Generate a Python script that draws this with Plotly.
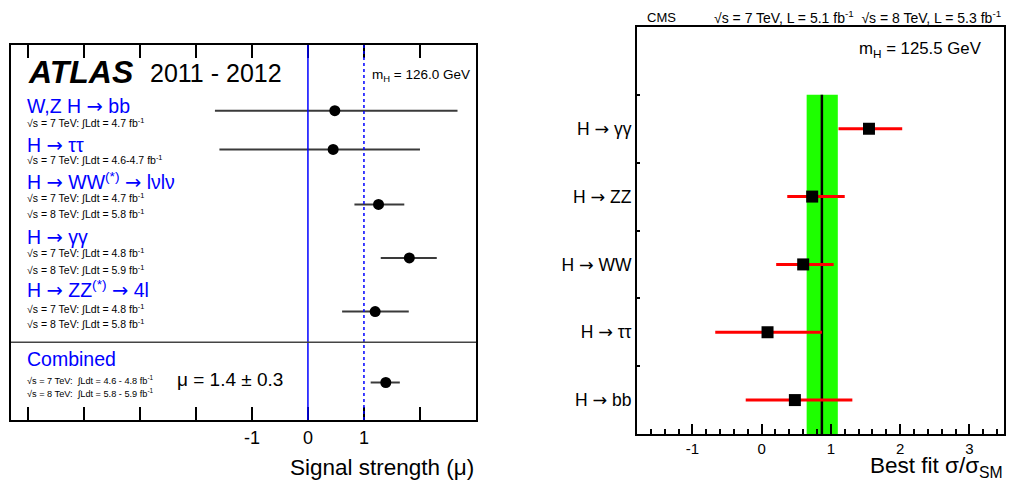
import plotly.graph_objects as go

# ---------------- data ----------------
atlas_channels = ["W,Z H → bb", "H → ττ", "H → WW<sup>(*)</sup> → lνlν",
                  "H → γγ", "H → ZZ<sup>(*)</sup> → 4l", "Combined"]
atlas_mu = [0.48, 0.45, 1.26, 1.81, 1.20, 1.39]
atlas_err_lo = [2.14, 2.03, 0.43, 0.51, 0.59, 0.27]
atlas_err_hi = [2.19, 1.55, 0.46, 0.49, 0.60, 0.25]
atlas_sublabels = [
    ["√s = 7 TeV: ∫Ldt = 4.7 fb<sup>-1</sup>"],
    ["√s = 7 TeV: ∫Ldt = 4.6-4.7 fb<sup>-1</sup>"],
    ["√s = 7 TeV: ∫Ldt = 4.7 fb<sup>-1</sup>", "√s = 8 TeV: ∫Ldt = 5.8 fb<sup>-1</sup>"],
    ["√s = 7 TeV: ∫Ldt = 4.8 fb<sup>-1</sup>", "√s = 8 TeV: ∫Ldt = 5.9 fb<sup>-1</sup>"],
    ["√s = 7 TeV: ∫Ldt = 4.8 fb<sup>-1</sup>", "√s = 8 TeV: ∫Ldt = 5.8 fb<sup>-1</sup>"],
    ["√s = 7 TeV:  ∫Ldt = 4.6 - 4.8 fb<sup>-1</sup>", "√s = 8 TeV:  ∫Ldt = 5.8 - 5.9 fb<sup>-1</sup>"],
]
atlas_ticks = [-5, -4, -3, -2, -1, 0, 1, 2, 3]
atlas_ticktext = ["" if v not in (-1, 0, 1) else str(v) for v in atlas_ticks]

cms_channels = ["H → bb", "H → ττ", "H → WW", "H → ZZ", "H → γγ"]
cms_mu = [0.48, 0.085, 0.60, 0.73, 1.55]
cms_err_lo = [0.71, 0.755, 0.39, 0.36, 0.44]
cms_err_hi = [0.83, 0.785, 0.44, 0.47, 0.48]
cms_comb = 0.87
cms_comb_lo = 0.22
cms_comb_hi = 0.23
cms_ticks = [-1, 0, 1, 2, 3]

# ---------------- layout helpers ----------------
W, H = 1011, 487
FONT = "Liberation Sans, Arial, sans-serif"
ARROW = '<span style="font-family:DejaVu Sans">→</span>'
def px(x): return x / W
def py(y): return 1 - y / H
def arrows(s): return s.replace("→", ARROW)

# row positions on the ATLAS panel (layout slots, top = 0)
atlas_rows = [2.45, 3.9, 5.95, 7.95, 9.95, 12.6]
atlas_sep = 11.1

fig = go.Figure()

fig.add_trace(go.Scatter(
    x=atlas_mu, y=atlas_rows, mode="markers", xaxis="x", yaxis="y",
    marker=dict(color="black", size=11, symbol="circle"),
    error_x=dict(type="data", symmetric=False, array=atlas_err_hi,
                 arrayminus=atlas_err_lo, color="#3a3a3a", thickness=2, width=0),
    showlegend=False, hoverinfo="skip"))

fig.add_trace(go.Scatter(
    x=cms_mu, y=cms_channels, mode="markers", xaxis="x2", yaxis="y2",
    marker=dict(color="black", size=12, symbol="square"),
    error_x=dict(type="data", symmetric=False, array=cms_err_hi,
                 arrayminus=cms_err_lo, color="#ff0000", thickness=3, width=0),
    showlegend=False, hoverinfo="skip"))

shapes = [
    dict(type="line", xref="x", yref="y domain", x0=0, x1=0, y0=0, y1=1,
         line=dict(color="#0000ff", width=1.5)),
    dict(type="line", xref="x", yref="y domain", x0=1, x1=1, y0=0, y1=1,
         line=dict(color="#0000ff", width=1.5, dash="dot")),
    dict(type="line", xref="x domain", yref="y", x0=0, x1=1, y0=atlas_sep, y1=atlas_sep,
         line=dict(color="#444444", width=1.5)),
    dict(type="rect", xref="x2", yref="y2", x0=cms_comb - cms_comb_lo, x1=cms_comb + cms_comb_hi,
         y0=-0.5, y1=len(cms_channels) - 0.5, fillcolor="rgb(30,255,0)",
         line=dict(width=0), layer="below"),
    dict(type="line", xref="x2", yref="y2", x0=cms_comb, x1=cms_comb,
         y0=-0.5, y1=len(cms_channels) - 0.5, line=dict(color="black", width=2.5), layer="below"),
]

ann = []
def text(x, y, t, size, color="black", xanchor="left", **kw):
    ann.append(dict(x=px(x), y=py(y), xref="paper", yref="paper", text=t, showarrow=False,
                    xanchor=xanchor, yanchor="middle",
                    font=dict(family=FONT, size=size, color=color), **kw))

# ATLAS panel texts
text(26, 72, "<b><i>ATLAS</i></b>", 32)
text(148, 73, "2011 - 2012", 25)
text(370, 75, "m<sub>H</sub> = 126.0 GeV", 13.5)
header_y = [106, 145, 181, 237, 289, 359]
sub_y = [[122], [159], [198, 214], [252, 269], [308, 323], [380, 393]]
for lab, hy, subs, sy in zip(atlas_channels, header_y, atlas_sublabels, sub_y):
    text(25, hy, arrows(lab), 19.5, color="#0000ff")
    for s, yy in zip(subs, sy):
        text(25, yy, s, 10.5 if lab != "Combined" else 9.2)
text(175, 379, "μ = 1.4 ± 0.3", 19)
text(476, 467, "Signal strength (μ)", 22.5, xanchor="right")

# CMS panel texts
text(645, 17, "CMS", 13)
text(1003, 17, "√s = 7 TeV, L = 5.1 fb<sup>-1</sup>  √s = 8 TeV, L = 5.3 fb<sup>-1</sup>", 14,
     xanchor="right")
text(857, 50, "m<sub>H</sub> = 125.5 GeV", 16.8)
text(1005, 467, "Best fit σ/σ<sub>SM</sub>", 22.5, xanchor="right")

axis_common = dict(showgrid=False, zeroline=False, automargin=False,
                   showline=True, linecolor="black", linewidth=2)

fig.update_layout(
    width=W, height=H, margin=dict(l=0, r=0, t=0, b=0),
    template="none", paper_bgcolor="white", plot_bgcolor="white",
    font=dict(family=FONT, color="black"),
    xaxis=dict(domain=[px(11), px(476)], range=[-5.3, 3.0], anchor="y",
               tickvals=atlas_ticks, ticktext=atlas_ticktext, ticks="inside",
               ticklen=13, tickwidth=1.5, tickcolor="black", mirror="ticks",
               tickfont=dict(size=18, family=FONT), **axis_common),
    yaxis=dict(domain=[py(420), py(45)], range=[14, 0], anchor="x",
               showticklabels=False, ticks="", mirror=True, **axis_common),
    xaxis2=dict(domain=[px(637), px(1004)], range=[-1.8, 3.5], anchor="y2",
                tickvals=cms_ticks, ticktext=[str(v) for v in cms_ticks],
                ticks="inside", ticklen=10, tickwidth=1.5,
                tickcolor="black", mirror=True,
                minor=dict(dtick=0.2, tick0=0, ticks="inside", ticklen=5,
                           tickwidth=1.5, tickcolor="black"),
                tickfont=dict(size=15, family=FONT), **axis_common),
    yaxis2=dict(domain=[py(434), py(27)], type="category", categoryorder="array",
                categoryarray=cms_channels, range=[-0.5, 5.5], anchor="x2",
                tickson="boundaries", ticks="inside", ticklen=3, tickwidth=1.5,
                tickcolor="black", mirror=True,
                tickvals=cms_channels, ticktext=[arrows(c) for c in cms_channels],
                tickfont=dict(size=17.5, family=FONT), **axis_common),
    shapes=shapes, annotations=ann,
)

fig.write_html("out.html", config={"displayModeBar": False},
               post_script="document.body.style.margin='0';document.body.style.padding='0';")
